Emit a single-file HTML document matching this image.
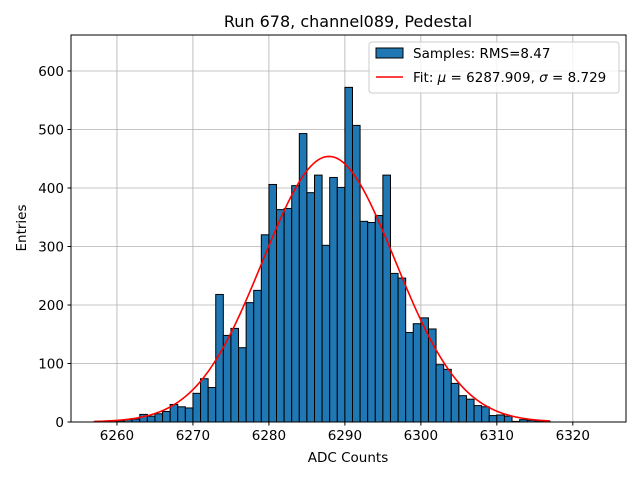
<!DOCTYPE html>
<html><head><meta charset="utf-8"><style>
body{margin:0;background:#fff;}
text{font-family:"DejaVu Sans","Liberation Sans",sans-serif;}
</style></head><body>
<svg id="chart" width="640" height="480" xmlns="http://www.w3.org/2000/svg">
<rect width="640" height="480" fill="#fff"/>
<g id="grid"></g>
<g id="bars"></g>
<g id="fit"></g>
<rect x="71" y="35" width="555" height="387" fill="none" stroke="#000" stroke-width="1"/>
<g id="xticks"></g>
<g id="yticks"></g>
<text x="348" y="27" font-size="16" text-anchor="middle">Run 678, channel089, Pedestal</text>
<text x="348" y="462" font-size="13.5" text-anchor="middle">ADC Counts</text>
<text x="26" y="228" font-size="13.5" text-anchor="middle" transform="rotate(-90 26 228)">Entries</text>
<g>
<rect x="369" y="42" width="250" height="51" rx="3" fill="#fff" fill-opacity="0.8" stroke="#ccc"/>
<rect x="376" y="48" width="27" height="10" fill="#1f77b4" stroke="#000"/>
<text x="413" y="58" font-size="13.5">Samples: RMS=8.47</text>
<line x1="376" y1="77" x2="403" y2="77" stroke="red" stroke-width="1.6"/>
<text x="413" y="82" font-size="13.5">Fit: <tspan font-style="italic">μ</tspan> = 6287.909, <tspan font-style="italic">σ</tspan> = 8.729</text>
</g>
</svg>
<script>
const binStarts = [6257,6258,6259,6260,6261,6262,6263,6264,6265,6266,6267,6268,6269,6270,6271,6272,6273,6274,6275,6276,6277,6278,6279,6280,6281,6282,6283,6284,6285,6286,6287,6288,6289,6290,6291,6292,6293,6294,6295,6296,6297,6298,6299,6300,6301,6302,6303,6304,6305,6306,6307,6308,6309,6310,6311,6312,6313,6314,6315,6316];
const counts = [1,1,2,2,4,5,13,10,14,18,30,26,24,49,74,59,218,148,160,127,204,225,320,406,363,365,404,493,392,422,302,418,401,572,507,343,341,353,422,254,246,153,168,178,159,98,90,66,45,39,28,26,11,12,10,1,4,3,2,1];
const binWidth = 1;
const fitMu = 6287.909, fitSigma = 8.729, fitAmp = 454;
const fitRange = [6257, 6317];
const xTicks = [6260,6270,6280,6290,6300,6310,6320];
const yTicks = [0,100,200,300,400,500,600];

const NS="http://www.w3.org/2000/svg";
const X0=71,X1=626,Y0=422,Y1=35;
const xMin=6253.95,xMax=6327.0,yMin=0,yMax=661.5;
const xs=v=>X0+(v-xMin)/(xMax-xMin)*(X1-X0);
const ys=v=>Y0-(v-yMin)/(yMax-yMin)*(Y0-Y1);
function mk(tag,attrs,parent){const e=document.createElementNS(NS,tag);for(const k in attrs)e.setAttribute(k,attrs[k]);parent.appendChild(e);return e;}
const grid=document.getElementById('grid'),bars=document.getElementById('bars'),fit=document.getElementById('fit'),xt=document.getElementById('xticks'),yt=document.getElementById('yticks');
xTicks.forEach(t=>{const x=xs(t);
 const g=mk('line',{x1:x,x2:x,y1:Y1,y2:Y0,stroke:'#b0b0b0','stroke-width':0.8},grid);
 
 
 mk('line',{x1:x,x2:x,y1:Y0,y2:Y0+3.5,stroke:'#000'},xt);
 const l=mk('text',{x:x,y:Y0+18,'font-size':13.5,'text-anchor':'middle'},xt);l.textContent=t;
 
 
});
yTicks.forEach(t=>{const y=ys(t);
 const g=mk('line',{x1:X0,x2:X1,y1:y,y2:y,stroke:'#b0b0b0','stroke-width':0.8},grid);
 
 
 mk('line',{x1:X0-3.5,x2:X0,y1:y,y2:y,stroke:'#000'},yt);
 const l=mk('text',{x:X0-7,y:y+5,'font-size':13.5,'text-anchor':'end'},yt);l.textContent=t;
 
 
});
binStarts.forEach((b,i)=>{const x=xs(b),w=xs(b+binWidth)-x,y=ys(counts[i]);
 const r=mk('rect',{x:x,y:y,width:w,height:ys(0)-y,fill:'#1f77b4',stroke:'#000','stroke-width':1},bars);
 
 
});
let d='';
for(let i=0;i<=200;i++){const v=fitRange[0]+(fitRange[1]-fitRange[0])*i/200;
 const c=fitAmp*Math.exp(-0.5*Math.pow((v-fitMu)/fitSigma,2));
 d+=(i?'L':'M')+xs(v).toFixed(2)+','+ys(c).toFixed(2);}
const p=mk('path',{d:d,fill:'none',stroke:'red','stroke-width':1.6},fit);


</script>
</body></html>
